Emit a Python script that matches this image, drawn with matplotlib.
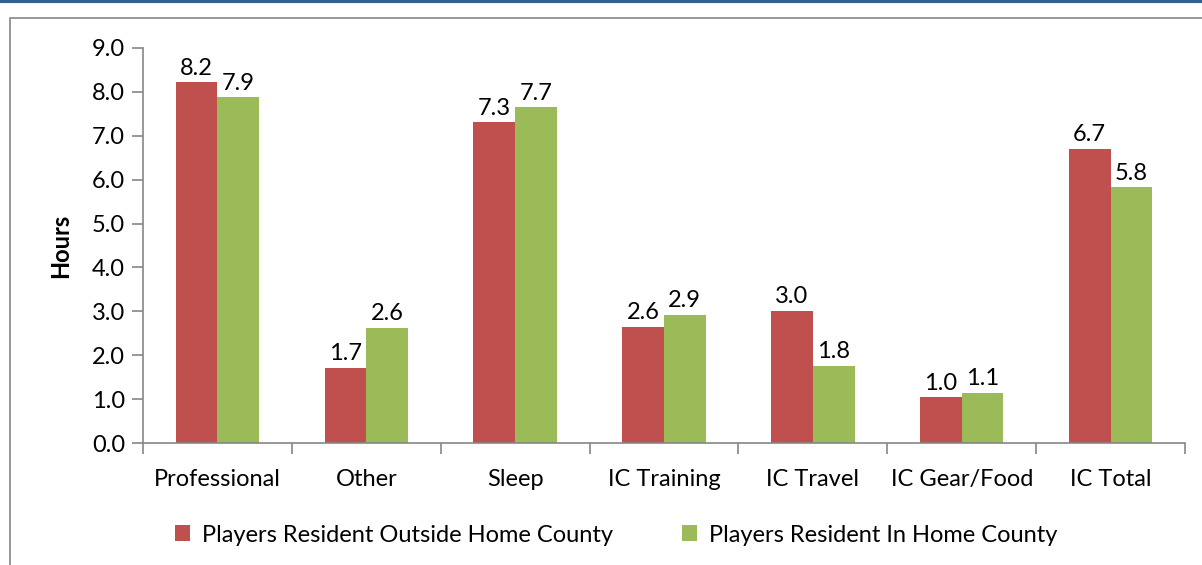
import numpy as np
import matplotlib.pyplot as plt
from matplotlib.patches import Rectangle
from matplotlib.lines import Line2D

categories = ["Professional", "Other", "Sleep", "IC Training", "IC Travel", "IC Gear/Food", "IC Total"]
outside = [8.22, 1.71, 7.31, 2.65, 3.01, 1.04, 6.71]
home = [7.88, 2.62, 7.65, 2.92, 1.76, 1.14, 5.83]
series_names = ["Players Resident Outside Home County", "Players Resident In Home County"]

red = "#c0504d"
green = "#9bbb59"
grey = "#868686"
fs = 17

plt.rcParams['font.family'] = ['Lato', 'DejaVu Sans']

fig = plt.figure(figsize=(12.02, 5.65), dpi=100)

# page-style frame lines
fig.add_artist(Line2D([0, 1], [0.998, 0.998], color="#365f91", lw=3, transform=fig.transFigure))
fig.add_artist(Rectangle((10/1202, -0.05), 1.1, 1 - 18/565 + 0.05, transform=fig.transFigure,
                         fill=False, edgecolor=grey, lw=1.2))

ax = fig.add_axes((143/1202, 1 - 443/565, (1185-143)/1202, (443-48)/565))

x = np.arange(len(categories))
w = 0.28
b1 = ax.bar(x - w/2, outside, w, color=red, label=series_names[0])
b2 = ax.bar(x + w/2, home, w, color=green, label=series_names[1])

for bars, vals in ((b1, outside), (b2, home)):
    for r, v in zip(bars, vals):
        ax.text(r.get_x() + r.get_width()/2, v + 0.08, "%.1f" % v,
                ha="center", va="bottom", fontsize=fs)

ax.set_xlim(-0.5, len(categories) - 0.5)
ax.set_ylim(0, 9)
ax.set_yticks(np.arange(0, 9.1, 1.0))
ax.set_yticklabels(["%.1f" % t for t in np.arange(0, 9.1, 1.0)], fontsize=fs)
ax.set_xticks(np.arange(-0.5, len(categories), 1.0))
ax.set_xticklabels([])
ax.set_xticks(x, minor=True)
ax.set_xticklabels(categories, minor=True, fontsize=fs)
ax.tick_params(axis="x", which="minor", length=0, pad=19)
ax.tick_params(axis="x", which="major", length=8, color=grey, width=1.2)
ax.tick_params(axis="y", length=8, color=grey, width=1.2, pad=5)
for s in ("top", "right"):
    ax.spines[s].set_visible(False)
for s in ("left", "bottom"):
    ax.spines[s].set_color(grey)
    ax.spines[s].set_linewidth(1.2)

ax.set_ylabel("Hours", fontsize=fs, fontweight="bold", labelpad=14)

ax.legend(loc="center", bbox_to_anchor=(0.454, -0.233), ncol=2, frameon=False,
          fontsize=fs, handlelength=0.65, handleheight=0.65, columnspacing=2.9, handletextpad=0.5)

fig.savefig("out.png", dpi=100)
